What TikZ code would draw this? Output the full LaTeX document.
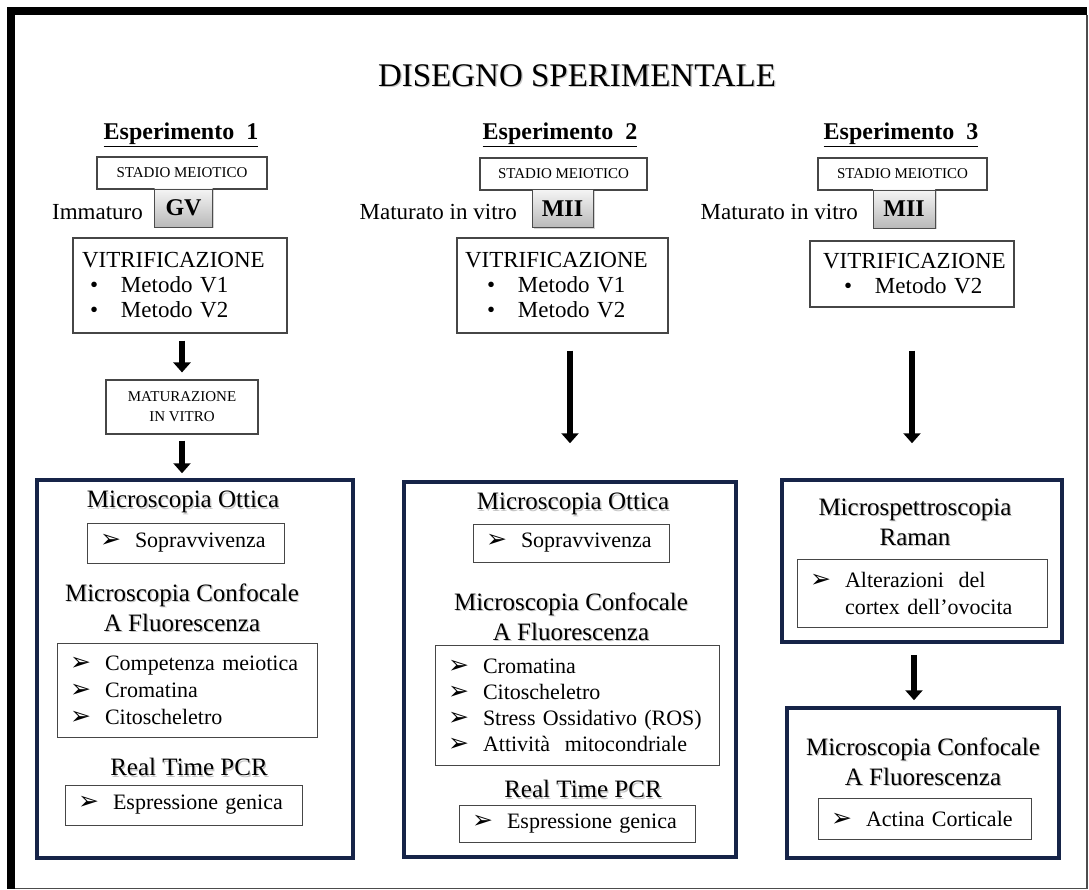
\documentclass[tikz,border=0pt]{standalone}
\usepackage{fontspec}
\setmainfont{Liberation Serif}
\newfontfamily\symfont{DejaVu Sans}
\usetikzlibrary{arrows.meta,shadows}

\definecolor{boxnavy}{RGB}{22,36,72}
\definecolor{thinline}{RGB}{70,70,70}

\newcommand{\arrbullet}{{\symfont\fontsize{25}{25}\selectfont ➢}}
\newcommand{\litem}[1]{\makebox[35pt][l]{\arrbullet}#1}
\newcommand{\vitem}[2]{\hspace*{#1}\makebox[31pt][l]{•}#2}
\newcommand{\shd}[1]{\makebox[0pt][l]{\hspace{1.3pt}\raisebox{-1.3pt}{\color{gray!45}#1}}#1}

\begin{document}
\begin{tikzpicture}[x=1pt,y=-1pt,
    smallbox/.style={draw=thinline, line width=1.1pt, fill=white, inner sep=0pt, align=center, font=\fontsize{15}{20}\selectfont},
    stagebox/.style={draw=gray!60!black, top color=gray!8, bottom color=gray!55, minimum width=58pt, minimum height=38pt, inner sep=0pt,
        drop shadow={shadow xshift=1.5pt, shadow yshift=-1.5pt, opacity=.35}, font=\bfseries\fontsize{24}{24}\selectfont},
    sidetext/.style={anchor=east, inner sep=0pt, font=\fontsize{23}{25}\selectfont},
    exptitle/.style={font=\bfseries\fontsize{24}{28}\selectfont},
    vitbox/.style={draw=thinline, line width=1.1pt, align=left, inner ysep=0pt, font=\fontsize{23}{25}\selectfont},
    bigbox/.style={draw=boxnavy, line width=3.5pt},
    head/.style={align=center, inner sep=0pt, font=\fontsize{25}{30}\selectfont},
    listbox/.style={draw=thinline, line width=1pt, align=left, inner xsep=13pt, inner ysep=0pt, font=\fontsize{22}{27}\selectfont},
    bigarrow/.style={line width=6pt, -{Triangle[width=17pt,length=10pt]}}]
    \useasboundingbox (0,0) rectangle (1089,890);

    % cornice
    \fill (7,7) rectangle (1087,15);
    \fill (7,7) rectangle (15,889);
    \draw[gray!60!black, line width=1.5pt] (15,888.5) -- (1087,888.5) -- (1087,15);

    \node[font=\fontsize{33}{36}\selectfont] (title) at (577,76) {\shd{DISEGNO SPERIMENTALE}};

    % Esperimento 1
    \node[exptitle] (exp1) at (181,135) {\underline{Esperimento\ \ 1}};
    \node[smallbox, minimum width=170pt, minimum height=32pt] (stadio1) at (182,173) {STADIO MEIOTICO};
    \node[stagebox] (gv) at (183.5,208) {GV};
    \node[sidetext] (imm) at (143,212) {Immaturo};
    \node[vitbox, inner xsep=9pt, text width=196pt, minimum height=95pt] (vit1) at (180,285.5)
        {VITRIFICAZIONE\\ \vitem{8pt}{Metodo V1}\\ \vitem{8pt}{Metodo V2}};
    \node[smallbox, minimum width=152pt, minimum height=54pt] (matur) at (182,407) {MATURAZIONE\\IN VITRO};
    \node[bigbox, minimum width=316pt, minimum height=378pt] (box1) at (195,669) {};
    \node[head] (ott1) at (183,503) {\shd{Microscopia Ottica}};
    \node[listbox, text width=171pt, minimum height=40pt] (sop1) at (185.5,543) {\litem{Sopravvivenza}};
    \node[head] (conf1) at (182,608) {\shd{Microscopia Confocale}\\\shd{A Fluorescenza}};
    \node[listbox, text width=234pt, minimum height=94pt] (list1) at (187,690)
        {\litem{Competenza meiotica}\\\litem{Cromatina}\\\litem{Citoscheletro}};
    \node[head] (pcr1) at (189,768) {\shd{Real Time PCR}};
    \node[listbox, text width=211pt, minimum height=40pt] (expr1) at (183.5,805) {\litem{Espressione genica}};

    % Esperimento 2
    \node[exptitle] (exp2) at (560,135) {\underline{Esperimento\ \ 2}};
    \node[smallbox, minimum width=167pt, minimum height=32pt] (stadio2) at (563.5,174) {STADIO MEIOTICO};
    \node[stagebox, minimum width=61pt] (mii2) at (562.5,208.5) {MII};
    \node[sidetext] (mat2) at (517,212) {Maturato in vitro};
    \node[vitbox, inner xsep=8pt, text width=195pt, minimum height=95pt] (vit2) at (562.5,285.5)
        {VITRIFICAZIONE\\ \vitem{22pt}{Metodo V1}\\ \vitem{22pt}{Metodo V2}};
    \node[bigbox, minimum width=332pt, minimum height=375pt] (box2) at (570,669.5) {};
    \node[head] (ott2) at (573,505) {\shd{Microscopia Ottica}};
    \node[listbox, text width=170pt, minimum height=38pt] (sop2) at (571,543) {\litem{Sopravvivenza}};
    \node[head] (conf2) at (571,617.5) {\shd{Microscopia Confocale}\\\shd{A Fluorescenza}};
    \node[listbox, text width=258pt, minimum height=120pt, font=\fontsize{22}{26}\selectfont] (list2) at (577,705)
        {\litem{Cromatina}\\\litem{Citoscheletro}\\\litem{Stress Ossidativo (ROS)}\\\litem{Attività\ \ mitocondriale}};
    \node[head] (pcr2) at (583,790) {\shd{Real Time PCR}};
    \node[listbox, text width=210pt, minimum height=37pt] (expr2) at (577,823.5) {\litem{Espressione genica}};

    % Esperimento 3
    \node[exptitle] (exp3) at (901,135) {\underline{Esperimento\ \ 3}};
    \node[smallbox, minimum width=169pt, minimum height=32pt] (stadio3) at (902.5,174) {STADIO MEIOTICO};
    \node[stagebox, minimum width=62pt] (mii3) at (904,209) {MII};
    \node[sidetext] (mat3) at (858,212) {Maturato in vitro};
    \node[vitbox, inner xsep=13pt, text width=178pt, minimum height=66pt] (vit3) at (912,274)
        {VITRIFICAZIONE\\ \vitem{21pt}{Metodo V2}};
    \node[bigbox, minimum width=280pt, minimum height=162pt] (box3a) at (922,561) {};
    \node[head] (spet) at (915,523) {\shd{Microspettroscopia}\\\shd{Raman}};
    \node[listbox, text width=224pt, minimum height=68pt] (raman) at (922,593)
        {\litem{Alterazioni\ \ del}\\\hspace*{35pt}cortex dell’ovocita};
    \node[bigbox, minimum width=272pt, minimum height=150pt] (box3b) at (923,783) {};
    \node[head] (conf3) at (923,762) {\shd{Microscopia Confocale}\\\shd{A Fluorescenza}};
    \node[listbox, text width=187pt, minimum height=41pt] (actina) at (924.5,818.5) {\litem{Actina Corticale}};

    % frecce
    \draw[bigarrow, shorten <=7pt, shorten >=7pt] (vit1.south -| matur.north) -- (matur.north);
    \draw[bigarrow, shorten <=6pt, shorten >=5pt] (matur.south) -- (matur.south |- box1.north);
    \draw[bigarrow, shorten <=17pt, shorten >=37pt] (vit2.south -| box2.north) -- (box2.north);
    \draw[bigarrow, shorten <=43pt, shorten >=35pt] (vit3.south) -- (vit3.south |- box3a.north);
    \draw[bigarrow, shorten <=11pt, shorten >=6pt] ([xshift=-8pt]box3a.south) -- ([xshift=-8pt]box3a.south |- box3b.north);
\end{tikzpicture}
\end{document}
